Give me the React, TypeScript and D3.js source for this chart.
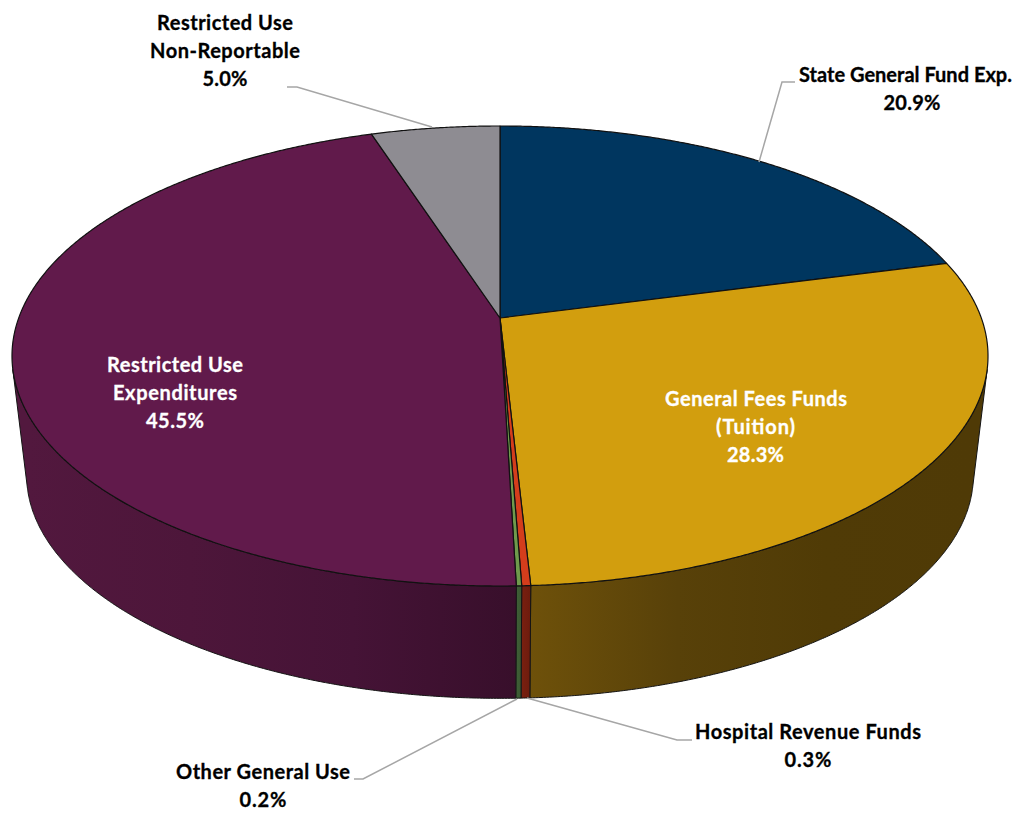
import * as d3 from "d3";

// slices, clockwise from 12 o'clock
const names = ["State General Fund Exp.", "General Fees Funds (Tuition)", "Hospital Revenue Funds", "Other General Use", "Restricted Use Expenditures", "Restricted Use Non-Reportable"];
const shares = [20.9, 28.25, 0.25, 0.15, 45.45, 5.0];
const topColors = ["#00365f", "#d29e0e", "#d43d1c", "#6f9a4c", "#611a4b", "#8e8c92"];
const sideStops = [
  ["#00223c", "#00223c"],
  ["#6e510a", "#584109", "#503b06", "#4f3a06"],
  ["#7a2010", "#6e1c0e"],
  ["#3f6036", "#3a5832"],
  ["#52183e", "#4d163a", "#451336", "#380f2b"],
  ["#55545a", "#55545a"],
];

// label text and where it sits; w is the measured width of each line
const labels = [
  { lines: ["Restricted Use", "Non-Reportable", "5.0%"], x: [225, 225, 225], w: [136, 150, 45], y: 30, fill: "#000" },
  { lines: ["State General Fund Exp.", "20.9%"], x: [905.5, 912], w: [213, 57], y: 82, fill: "#000" },
  { lines: ["General Fees Funds", "(Tuition)", "28.3%"], x: [756, 755.5, 755.5], w: [182, 79, 57], y: 406, fill: "#fff" },
  { lines: ["Restricted Use", "Expenditures", "45.5%"], x: [175, 175, 175], w: [136, 124, 58], y: 372, fill: "#fff" },
  { lines: ["Hospital Revenue Funds", "0.3%"], x: [808, 808], w: [226, 47], y: 739, fill: "#000" },
  { lines: ["Other General Use", "0.2%"], x: [263, 263], w: [174, 47], y: 779, fill: "#000" },
];
const leaders: [number, number][][] = [
  [[287, 87], [297, 87], [432, 127]],
  [[795, 82], [782, 82], [759, 162]],
  [[692, 740], [677, 740], [527, 698]],
  [[354, 779], [363, 779], [517, 699]],
];

const width = 1032;
const height = 813;

// perspective of the disc: fitted to top 126, bottom 586, centre 318, sides 12 / 988
const cx = 500;
const k = -0.1652;
const a = 171.2;
const b = 318;
const c = 481.3;
// rim shrinks toward a vanishing point below the pie
const vy = 4330;
const s = 0.97;

type Pt = [number, number];
const top = (t: number): Pt => {
  const u = Math.sin(t);
  const v = -Math.cos(t);
  const d = 1 + k * v;
  return [cx + (c * u) / d, (a * v + b) / d];
};
const centre: Pt = [cx, b];
const low = (t: number): Pt => {
  const [x, y] = top(t);
  return [cx + s * (x - cx), vy + s * (y - vy)];
};

const line = d3.line<Pt>();
const sample = (t0: number, t1: number) => {
  const n = Math.max(2, Math.ceil((t1 - t0) / 0.005));
  return d3.range(n + 1).map((i) => t0 + ((t1 - t0) * i) / n);
};

// where the wall's silhouette leaves the disc
const rightTangent = d3.greatest(
  d3.range(0, Math.PI, 0.002),
  (t) => (top(t)[0] - cx) / (vy - top(t)[1])
) as number;
const leftTangent = 2 * Math.PI - rightTangent;

const arcs = d3.pie<number>().sort(null).value((d) => d)(shares);

export default function App() {
  return (
    <svg
      width={width}
      height={height}
      viewBox={`0 0 ${width} ${height}`}
      style={{ position: "absolute", left: 0, top: 0, background: "#fff" }}
    >
      <defs>
        {arcs.map((d, i) => {
          const from = Math.max(d.startAngle, rightTangent);
          const to = Math.min(d.endAngle, leftTangent);
          if (to <= from) return null;
          const xs = d3.extent(sample(from, to), (t) => low(t)[0]) as [number, number];
          return (
            <linearGradient
              key={i}
              id={`side${i}`}
              gradientUnits="userSpaceOnUse"
              x1={xs[0]}
              x2={xs[1]}
              y1={0}
              y2={0}
            >
              {sideStops[i].map((col, j) => (
                <stop
                  key={j}
                  offset={j / (sideStops[i].length - 1)}
                  stopColor={col}
                />
              ))}
            </linearGradient>
          );
        })}
      </defs>

      {/* outer walls, front half only */}
      {arcs.map((d, i) => {
        const from = Math.max(d.startAngle, rightTangent);
        const to = Math.min(d.endAngle, leftTangent);
        if (to <= from) return null;
        const ts = sample(from, to);
        const pts = [...ts.map(top), ...ts.slice().reverse().map(low)];
        return (
          <path
            key={names[i]}
            d={line(pts) + "Z"}
            fill={`url(#side${i})`}
            stroke="#141414"
            strokeWidth={1}
            strokeLinejoin="round"
          />
        );
      })}

      {/* top faces */}
      {arcs.map((d, i) => {
        const pts = [centre, ...sample(d.startAngle, d.endAngle).map(top)];
        return (
          <path
            key={names[i]}
            d={line(pts) + "Z"}
            fill={topColors[i]}
            stroke="#111"
            strokeWidth={1.2}
            strokeLinejoin="round"
          />
        );
      })}

      {leaders.map((pts, i) => (
        <path key={i} d={line(pts) as string} fill="none" stroke="#a6a6a6" strokeWidth={1.5} />
      ))}

      <g fontFamily="Lato, sans-serif" fontWeight={700} fontSize={20} textAnchor="middle">
        {labels.map((l) =>
          l.lines.map((t, j) => (
            <text
              key={l.y + t}
              x={l.x[j]}
              y={l.y + j * 28}
              fill={l.fill}
              stroke={l.fill}
              strokeWidth={0.3}
              textLength={l.w[j]}
              lengthAdjust="spacing"
            >
              {t}
            </text>
          ))
        )}
      </g>
    </svg>
  );
}
